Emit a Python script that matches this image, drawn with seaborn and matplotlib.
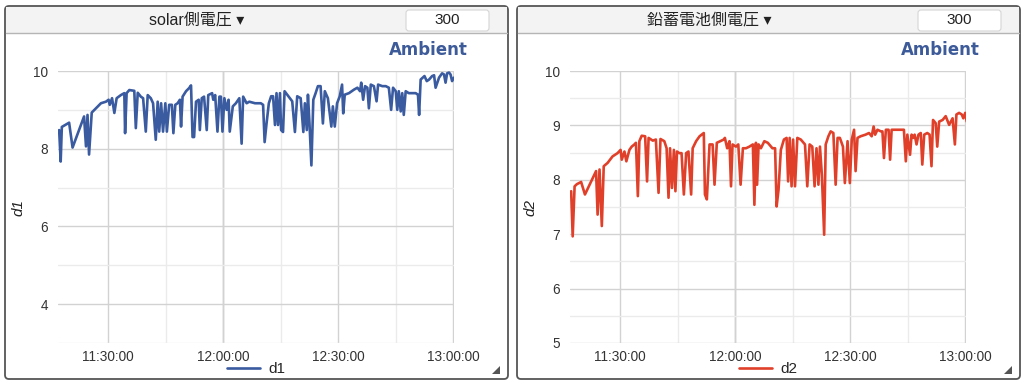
import pandas as pd
import numpy as np
import matplotlib
matplotlib.use("Agg")
import matplotlib.pyplot as plt
import matplotlib.dates as mdates
from matplotlib.ticker import MultipleLocator
from matplotlib.patches import FancyBboxPatch, Rectangle, Polygon
from matplotlib.transforms import Affine2D
import seaborn as sns

# DATA ------------------------------------------------------------
# minutes after 11:00 and voltage readings
t1 = [17.2, 17.6, 17.9, 19.8, 20.7, 23.7, 24.2, 24.6, 25.0, 25.7, 26.8, 28.1, 29.4, 30.1, 30.4,
      31.0, 31.6, 32.2, 33.3, 34.2, 34.4, 34.8, 35.5, 36.8, 37.2, 37.7, 38.5, 39.1, 39.8, 40.3,
      41.1, 41.7, 42.4, 42.9, 43.3, 43.8, 44.3, 44.9, 45.3, 45.9, 46.6, 47.0, 47.5, 48.1, 48.7,
      49.0, 49.4, 50.3, 51.1, 51.6, 52.0, 52.4, 52.9, 53.6, 53.9, 54.4, 55.0, 55.7, 56.1, 57.1,
      57.4, 57.9, 58.5, 59.0, 59.4, 59.8, 60.3, 60.9, 61.4, 61.7, 62.5, 63.3, 64.2, 64.8, 65.2,
      66.1, 66.8, 68.3,
      68.7, 69.8, 70.4, 70.8, 71.3, 71.9, 72.5, 73.0, 73.5, 73.9, 74.3, 74.8, 75.1, 75.6, 76.0,
      76.7, 78.0, 78.7, 79.3, 80.2, 80.9, 81.3, 81.8, 82.1, 82.5, 83.0, 83.5, 84.1, 84.7, 85.4,
      86.0, 86.5, 87.3, 88.2, 88.6, 89.1, 89.7, 90.4, 91.0, 91.3, 91.7, 92.8, 94.1, 95.0, 95.7,
      96.0, 96.5, 97.0, 97.6, 98.0, 98.5, 99.3, 100.0, 100.4, 101.5, 102.4, 103.2, 103.8, 104.3, 105.0,
      105.4, 105.8, 106.3, 106.7, 107.1, 107.6, 108.4, 109.3, 110.2, 110.8, 111.1, 111.5, 112.5, 113.1, 113.7,
      114.5, 115.0, 115.4, 116.3, 117.1, 117.6, 118.0, 118.4, 118.9, 119.3, 119.7, 120.2]
d1 = [8.48, 7.67, 8.56, 8.67, 8.03, 8.83, 8.06, 8.87, 7.85, 8.93, 9.04, 9.17, 9.21, 9.26, 9.13,
      9.30, 8.92, 9.30, 9.38, 9.43, 8.40, 9.43, 9.51, 9.49, 8.53, 9.44, 9.34, 9.30, 8.44, 9.38,
      9.30, 9.17, 8.23, 9.21, 8.44, 9.17, 8.44, 9.17, 8.44, 9.13, 9.13, 8.40, 9.13, 9.17, 9.26,
      8.57, 9.34, 9.48, 9.56, 9.63, 8.30, 8.30, 9.21, 9.26, 8.48, 9.30, 9.34, 8.48, 9.38, 9.43,
      9.26, 9.38, 8.44, 9.34, 9.34, 8.44, 9.30, 9.00, 9.26, 8.44, 9.09, 9.17, 9.30, 8.13, 9.34,
      9.17, 9.21, 9.17,
      9.17, 9.17, 9.13, 8.17, 8.65, 9.17, 9.35, 9.35, 8.61, 9.43, 8.61, 9.43, 8.48, 8.43, 9.48,
      9.39, 9.22, 8.43, 9.35, 9.30, 8.43, 9.17, 8.48, 9.39, 8.65, 7.57, 9.26, 9.43, 9.61, 9.61,
      8.65, 9.48, 9.30, 8.57, 9.09, 8.57, 9.17, 9.35, 9.65, 8.91, 9.39, 9.43, 9.52, 9.57, 9.48,
      9.70, 9.26, 9.61, 9.57, 9.04, 9.65, 9.61, 9.22, 9.65, 9.61, 9.61, 9.57, 9.00, 9.57, 9.48,
      9.00, 9.48, 8.96, 9.43, 8.87, 9.48, 9.43, 9.43, 9.43, 9.39, 8.87, 9.78, 9.87, 9.74, 9.78,
      9.87, 9.89, 9.57, 9.83, 9.94, 9.91, 9.70, 9.94, 9.96, 9.91, 9.74, 9.83]

t2 = [17.2, 17.6, 18.1, 18.7, 19.8, 20.8, 23.7, 24.1, 24.6, 25.2, 25.7, 26.7, 28.0, 29.3, 30.1,
      30.4, 31.1, 31.6, 32.4, 33.0, 33.7, 34.1, 34.6, 35.0, 35.6, 36.5, 37.0, 37.4, 38.5, 39.3,
      40.0, 40.5, 41.5, 42.1, 42.6, 43.0, 43.5, 44.0, 44.4, 44.8, 45.4, 46.0, 46.6, 47.2, 47.8,
      48.5, 48.9, 49.8, 50.7, 51.8, 52.1, 52.6, 53.3, 54.1, 54.6, 55.2, 56.1, 57.0, 57.3, 57.9,
      58.5, 58.9, 59.3, 60.2, 60.8, 61.4, 62.0, 62.8, 63.7, 64.6, 65.0, 65.4, 65.7, 66.1, 66.7,
      67.6, 68.5,
      69.7, 70.4, 70.8, 71.3, 71.9, 72.7, 73.4, 73.8, 74.2, 74.7, 75.1, 75.6, 76.2, 77.1, 78.2,
      78.8, 79.4, 80.1, 80.7, 81.2, 81.7, 82.1, 82.6, 83.2, 83.6, 84.3, 84.9, 85.6, 86.2, 86.7,
      87.3, 88.1, 88.6, 89.3, 89.9, 90.4, 91.0, 91.4, 91.9, 92.7, 94.0, 94.9, 95.6, 96.1, 96.5,
      97.1, 98.0, 98.4, 98.8, 99.3, 100.0, 100.4, 100.8, 101.9, 102.7, 103.4, 104.0, 104.5, 104.9, 105.6,
      106.0, 106.4, 106.8, 107.3, 107.8, 108.4, 108.8, 109.3, 110.1, 110.7, 111.2, 111.6, 112.3, 112.7, 113.2,
      114.1, 114.9, 115.8, 116.7, 117.3, 117.7, 118.4, 119.1, 119.5, 120.0, 120.4]
d2 = [7.79, 6.96, 7.88, 7.92, 7.96, 7.73, 8.16, 7.36, 8.19, 7.15, 8.25, 8.31, 8.43, 8.49, 8.55,
      8.37, 8.52, 8.34, 8.55, 8.61, 8.65, 8.68, 7.70, 8.71, 8.81, 8.80, 7.97, 8.77, 8.72, 8.74,
      7.76, 8.75, 8.71, 8.58, 7.67, 8.58, 7.85, 8.55, 7.79, 8.52, 8.49, 8.49, 7.73, 8.49, 8.52,
      7.73, 8.58, 8.71, 8.80, 8.86, 7.73, 7.64, 8.65, 8.65, 7.91, 8.68, 8.71, 8.74, 8.77, 8.58,
      8.71, 7.88, 8.65, 8.61, 8.65, 7.91, 8.58, 8.58, 8.61, 8.65, 7.54, 8.68, 7.91, 8.65, 8.58,
      8.71, 8.68,
      8.58, 8.58, 7.51, 7.82, 8.55, 8.74, 8.77, 7.97, 8.77, 7.88, 8.74, 7.88, 8.77, 8.74, 8.65,
      7.88, 8.65, 8.61, 7.88, 8.58, 7.91, 8.61, 8.09, 6.99, 8.65, 8.80, 8.89, 8.86, 7.91, 8.77,
      8.77, 8.61, 7.94, 8.71, 7.94, 8.74, 8.92, 8.16, 8.77, 8.80, 8.83, 8.86, 8.80, 8.98, 8.83,
      8.92, 8.89, 8.89, 8.40, 8.92, 8.92, 8.37, 8.92, 8.92, 8.92, 8.92, 8.92, 8.34, 8.83, 8.46,
      8.83, 8.77, 8.83, 8.65, 8.83, 8.86, 8.28, 8.83, 8.86, 8.83, 8.25, 9.10, 9.04, 8.61, 9.07,
      9.10, 9.17, 9.01, 9.13, 8.65, 9.20, 9.23, 9.20, 9.13, 9.23, 9.07]

titles = ["solar側電圧 ▾", "鉛蓄電池側電圧 ▾"]
names = ["d1", "d2"]
colors = ["#3a5ba0", "#e0402a"]
ylims = [(3, 10), (5, 10)]
ymajor = [2, 1]
yminor = [1, 0.5]

base = pd.Timestamp("2018-01-01 11:00:00")
series = [(t1, d1), (t2, d2)]

# PLOT ------------------------------------------------------------
sns.set_style("white")
plt.rcParams['font.family'] = ['Liberation Sans', 'Noto Sans CJK JP', 'DejaVu Sans']

W, H = 1024, 386
fig = plt.figure(figsize=(W / 100, H / 100), dpi=100)
px = Affine2D().scale(1 / W, -1 / H).translate(0, 1) + fig.transFigure

for i, x0 in enumerate([5, 517]):
    # card frame and header
    card = FancyBboxPatch((x0, 6), 503, 373, boxstyle="round,pad=0,rounding_size=4",
                          transform=px, fc="white", ec="#555555", lw=1.3, zorder=0)
    fig.patches.append(card)
    fig.patches.append(Rectangle((x0 + 1, 7), 501, 26, transform=px, fc="#f3f3f3", ec="none", zorder=1))
    fig.lines.append(plt.Line2D([x0 + 1, x0 + 502], [33, 33], transform=px, color="#b5b5b5", lw=1))
    fig.text((x0 + 192) / W, 1 - 20 / H, titles[i], ha="center", va="center", fontsize=11.5,
             color="#222222")
    box = FancyBboxPatch((x0 + 401, 10), 83, 21, boxstyle="round,pad=0,rounding_size=3",
                         transform=px, fc="white", ec="#d5d5d5", lw=0.8, zorder=2)
    fig.patches.append(box)
    fig.text((x0 + 442) / W, 1 - 20.5 / H, "300", ha="center", va="center", fontsize=11,
             color="#222222", zorder=3)
    fig.text((x0 + 463) / W, 1 - 50 / H, "Ambient", ha="right", va="center", fontsize=12,
             fontweight="bold", color="#3d5a99", family="DejaVu Sans", zorder=3)
    fig.patches.append(Polygon([(x0 + 487, 374), (x0 + 495, 374), (x0 + 495, 366)], closed=True,
                               transform=px, fc="#555555", ec="none", zorder=3))

    # chart area
    ax = fig.add_axes([(x0 + 53) / W, 1 - 343 / H, 396 / W, 272 / H])
    ax.set_zorder(5)
    ax.set_facecolor("none")
    t, v = series[i]
    df = pd.DataFrame({"time": base + pd.to_timedelta(t, unit="min"), names[i]: v})
    sns.lineplot(data=df, x="time", y=names[i], ax=ax, color=colors[i], lw=1.9,
                 estimator=None, sort=False, label=names[i])

    ax.set_xlim(base + pd.Timedelta(minutes=16.9), base + pd.Timedelta(minutes=120.2))
    ax.set_ylim(*ylims[i])
    ax.xaxis.set_major_locator(mdates.MinuteLocator(byminute=[0, 30]))
    ax.xaxis.set_minor_locator(mdates.MinuteLocator(byminute=[15, 45]))
    ax.xaxis.set_major_formatter(mdates.DateFormatter("%H:%M:%S"))
    ax.yaxis.set_major_locator(MultipleLocator(ymajor[i]))
    ax.yaxis.set_minor_locator(MultipleLocator(yminor[i]))
    ax.grid(which="major", color="#d2d2d2", lw=1)
    ax.grid(which="minor", color="#ebebeb", lw=1)
    ax.axvline(base + pd.Timedelta(minutes=60), color="#bdbdbd", lw=1, zorder=0.5)
    ax.set_axisbelow(True)
    for s in ax.spines.values():
        s.set_visible(False)
    ax.tick_params(which="both", length=0, labelsize=9.8, labelcolor="#333333")
    ax.tick_params(axis="y", pad=7)
    ax.tick_params(axis="x", pad=5)
    ax.set_xlabel("")
    ax.set_ylabel(names[i], fontsize=11, style="italic", color="#222222")
    ax.yaxis.set_label_coords(-(53 - 20) / 396, 0.5)
    ax.legend(loc="center", bbox_to_anchor=(0.5, -0.096), frameon=False, fontsize=11,
              handlelength=2.2, handletextpad=0.5, borderaxespad=0)

fig.savefig("out.png", dpi=100)
